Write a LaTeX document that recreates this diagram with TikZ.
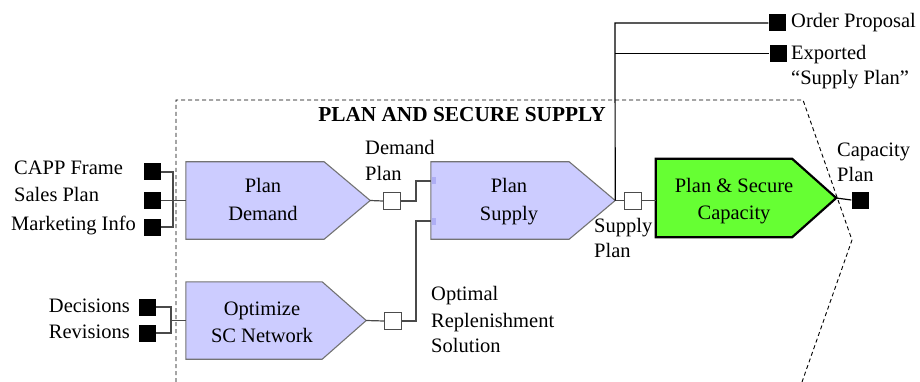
\documentclass[tikz,border=0pt]{standalone}
\usepackage{fontspec}
\setmainfont{LiberationSerif}[Extension=.ttf, UprightFont=*-Regular, BoldFont=*-Bold, ItalicFont=*-Italic, BoldItalicFont=*-BoldItalic]
\usetikzlibrary{calc}
\definecolor{lav}{HTML}{CCCCFF}
\definecolor{lavport}{HTML}{AEAEF5}
\definecolor{grn}{HTML}{66FF33}
\definecolor{conncol}{HTML}{4A4A4A}
\begin{document}
\begin{tikzpicture}[x=1pt,y=-1pt,
  txt/.style={font=\fontsize{20.5}{25}\selectfont, inner sep=0pt},
  lbl/.style={txt, anchor=base west},
  lblr/.style={txt, anchor=base east},
  lblc/.style={txt, anchor=base},
  ttl/.style={font=\fontsize{21.3}{25}\selectfont\bfseries, inner sep=0pt, anchor=base},
  body/.style={inner sep=0pt, minimum height=77pt},
  lavshape/.style={draw=black!55, fill=lav, line width=1.1pt},
  grnshape/.style={draw=black, fill=grn, line width=2.2pt},
  blk/.style={fill=black, minimum size=17pt, inner sep=0pt},
  wsq/.style={draw=black!70, fill=white, line width=1pt, minimum size=17pt, inner sep=0pt},
  conn/.style={draw=conncol, line width=1.2pt},
  bconn/.style={draw=black, line width=1.2pt},
  bound/.style={draw=black, line width=0.9pt, dash pattern=on 4pt off 3pt},
  port/.style={fill=lavport, minimum width=4pt, minimum height=7pt, inner sep=0pt}
]
\useasboundingbox (0,0) rectangle (920,382);

% boundary of the function
\coordinate (b1) at (176,382);
\coordinate (b2) at (176,100);
\coordinate (b3) at (803,100);
\coordinate (b4) at (852,240);
\coordinate (b5) at (802,382);
\draw[bound] (b1) -- (b2) -- (b3) -- (b4) -- (b5);
\node[ttl] (title) at (462,122) {PLAN AND SECURE SUPPLY};

% process bodies (rectangular part)
\node[body, minimum width=138pt] (pd) at (255,200.5) {};
\node[body, minimum width=136pt] (os) at (254,320.5) {};
\node[body, minimum width=138pt] (ps) at (500,200.5) {};
\node[body, minimum width=136pt, minimum height=78pt] (pc) at (724,198) {};

\coordinate (pdtip) at ($(pd.east)+(46,0)$);
\coordinate (ostip) at ($(os.east)+(44,0)$);
\coordinate (pstip) at ($(ps.east)+(46,0)$);
\coordinate (pctip) at ($(pc.east)+(44,0)$);

\draw[lavshape] (pd.north west) -- (pd.north east) -- (pdtip) -- (pd.south east) -- (pd.south west) -- cycle;
\draw[lavshape] (os.north west) -- (os.north east) -- (ostip) -- (os.south east) -- (os.south west) -- cycle;
\draw[lavshape] (ps.north west) -- (ps.north east) -- (pstip) -- (ps.south east) -- (ps.south west) -- cycle;
\draw[grnshape] (pc.north west) -- (pc.north east) -- (pctip) -- (pc.south east) -- (pc.south west) -- cycle;

% body texts
\node[lblc] (pdt1) at (263,193) {Plan};
\node[lblc] (pdt2) at (263,220) {Demand};
\node[lblc] (ost1) at (262,315) {Optimize};
\node[lblc] (ost2) at (262,342) {SC Network};
\node[lblc] (pst1) at (509,193) {Plan};
\node[lblc] (pst2) at (509,220) {Supply};
\node[lblc] (pct1) at (734,193) {Plan \& Secure};
\node[lblc] (pct2) at (734,219) {Capacity};

% ports on Plan Supply
\node[port, anchor=west] (pp1) at ($(ps.west)+(0.6,-19.5)$) {};
\node[port, anchor=west] (pp2) at ($(ps.west)+(0.6,20.5)$) {};

% left inputs
\node[blk] (in1) at (152,172) {};
\node[blk] (in2) at (152,200.5) {};
\node[blk] (in3) at (152,227) {};
\node[lbl] (l1) at (14,175) {CAPP Frame};
\node[lbl] (l2) at (14,201) {Sales Plan};
\node[lbl] (l3) at (11,230) {Marketing Info};
\coordinate (j1) at (173,200.5);
\draw[conn] (in1.east) -| (j1) |- (in3.east);
\draw[conn] (in2.east) -- (pd.west);

\node[blk] (dc) at (147.5,307) {};
\node[blk] (rv) at (147.5,333) {};
\node[lblr] (l4) at (130,312) {Decisions};
\node[lblr] (l5) at (130,338) {Revisions};
\coordinate (j2) at (171,320.5);
\draw[conn] (dc.east) -| (j2) |- (rv.east);
\draw[conn] (j2) -- (os.west);

% demand plan flow
\node[wsq] (d1) at (392,201) {};
\coordinate (k1) at (416,181);
\draw[conn] (pdtip) -- (d1.west);
\draw[conn] (d1.east) -| (k1) -- (pp1.west);
\node[lbl] (l6) at (365,155) {Demand};
\node[lbl] (l7) at (365,180) {Plan};

% optimal replenishment flow
\node[wsq] (d2) at (393,321) {};
\coordinate (k2) at (416,221);
\draw[conn] (ostip) -- (d2.west);
\draw[conn] (d2.east) -| (k2) -- (pp2.west);
\node[lbl] (l8) at (431,300) {Optimal};
\node[lbl] (l9) at (431,327) {Replenishment};
\node[lbl] (l10) at (431,352) {Solution};

% supply plan flow
\node[wsq] (d3) at (633,200.5) {};
\draw[conn] (pstip) -- (d3.west);
\draw[conn] (d3.east) -- (pc.west |- d3.east);
\node[lbl] (l11) at (594,232) {Supply};
\node[lbl] (l12) at (594,257) {Plan};

% exported outputs
\node[blk] (op) at (777,23) {};
\node[blk] (ex) at (778,53.5) {};
\coordinate (v1) at (615,23);
\coordinate (v2) at (615,53.5);
\draw[bconn] (pstip) -- (v1) -- (op.west);
\draw[bconn] (v2) -- (ex.west);
\node[lbl] (l13) at (791,28) {Order Proposal};
\node[lbl] (l14) at (791,60) {Exported};
\node[lbl] (l15) at (791,85) {“Supply Plan”};

% capacity plan output
\node[blk] (cp) at (860,200) {};
\draw[bconn] (pctip) -- (cp.west);
\node[lbl] (l16) at (837,157) {Capacity};
\node[lbl] (l17) at (837,182) {Plan};
\end{tikzpicture}
\end{document}
